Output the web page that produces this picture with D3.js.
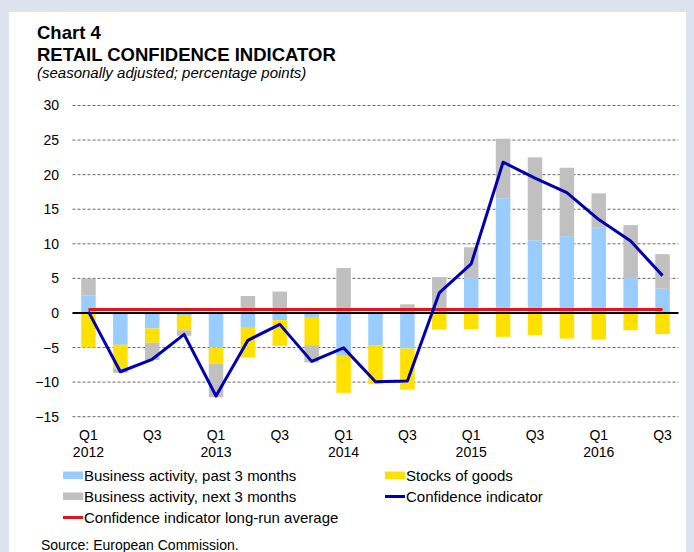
<!DOCTYPE html>
<html>
<head>
<meta charset="utf-8">
<script src="https://cdn.jsdelivr.net/npm/d3@7"></script>
<style>
  body { margin: 0; background: #dce3ef; }
  text { font-family: Arial, "Liberation Sans", sans-serif; fill: #000; }
</style>
</head>
<body>
<div id="chart"></div>
<script>

// quarters Q1 2012 .. Q3 2016
const quarters = ["Q1 2012","Q2 2012","Q3 2012","Q4 2012",
                  "Q1 2013","Q2 2013","Q3 2013","Q4 2013",
                  "Q1 2014","Q2 2014","Q3 2014","Q4 2014",
                  "Q1 2015","Q2 2015","Q3 2015","Q4 2015",
                  "Q1 2016","Q2 2016","Q3 2016"];

const pastActivity = [2.55, -4.6, -2.25, -0.4, -5.0, -2.15, -1.05, -0.7, -6.2, -4.65, -5.15, 0, 5.2, 16.6, 10.5, 11.1, 12.4, 5.05, 3.5];
const stocks = [-5.0, -3.4, -2.05, -2.1, -2.3, -4.3, -3.7, -3.95, -5.35, -5.65, -5.95, -2.4, -2.35, -3.45, -3.2, -3.7, -3.85, -2.5, -3.05];
const nextActivity = [2.4, -0.65, -2.5, -0.8, -4.9, 2.45, 3.1, -2.5, 6.5, 0, 1.25, 5.2, 4.3, 8.6, 12.0, 9.9, 4.9, 7.65, 5.0];
const confidence = [0.2, -8.5, -6.7, -3.1, -12.0, -3.95, -1.65, -7.0, -5.05, -9.95, -9.85, 2.9, 7.1, 21.8, 19.5, 17.4, 13.5, 10.4, 5.4];
const longRunAvg = 0.5;

const yTicks = [-15, -10, -5, 0, 5, 10, 15, 20, 25, 30];

const width = 694, height = 552;

const svg = d3.select("#chart")
  .append("svg")
  .attr("width", width)
  .attr("height", height);

// white panel
svg.append("rect")
  .attr("x", 9).attr("y", 12)
  .attr("width", 677).attr("height", height - 12)
  .attr("fill", "#fff");

// titles
svg.append("text").attr("x", 37).attr("y", 39)
  .attr("font-size", "18.5px").attr("font-weight", "bold").text("Chart 4");
svg.append("text").attr("x", 37).attr("y", 61)
  .attr("font-size", "18.5px").attr("font-weight", "bold").text("RETAIL CONFIDENCE INDICATOR");
svg.append("text").attr("x", 37).attr("y", 78)
  .attr("font-size", "15px").attr("font-style", "italic")
  .text("(seasonally adjusted; percentage points)");

// scales
const x = d3.scaleBand()
  .domain(d3.range(quarters.length))
  .range([72.5, 678.5])
  .paddingInner(0.545)
  .paddingOuter(0.2725);

const y = d3.scaleLinear()
  .domain([-15, 30])
  .range([416.7, 105.5]);

const cx = i => x(i) + x.bandwidth() / 2;

// gridlines
svg.append("g")
  .selectAll("line")
  .data(yTicks.filter(t => t !== 0))
  .join("line")
    .attr("x1", 72.5).attr("x2", 678.5)
    .attr("y1", d => y(d)).attr("y2", d => y(d))
    .attr("stroke", "#666")
    .attr("stroke-width", 1)
    .attr("stroke-dasharray", "3,2");

// y axis labels
const yAxis = svg.append("g")
  .attr("transform", "translate(72,0)")
  .call(d3.axisLeft(y).tickValues(yTicks).tickSize(0).tickPadding(13));
yAxis.select(".domain").remove();
yAxis.selectAll("text")
  .attr("font-size", "14px")
  .attr("font-family", "Arial, 'Liberation Sans', sans-serif")
  .attr("fill", "#000");

// stacked bars
const keys = ["past", "stocks", "next"];
const colors = { past: "#99ccff", stocks: "#ffe100", next: "#c0c0c0" };
const table = quarters.map((q, i) => ({
  i: i, past: pastActivity[i], stocks: stocks[i], next: nextActivity[i]
}));

const series = d3.stack()
  .keys(keys)
  .offset(d3.stackOffsetDiverging)(table);

svg.append("g")
  .selectAll("g")
  .data(series)
  .join("g")
    .attr("fill", d => colors[d.key])
  .selectAll("rect")
  .data(d => d)
  .join("rect")
    .attr("x", d => x(d.data.i))
    .attr("y", d => y(Math.max(d[0], d[1])))
    .attr("height", d => Math.abs(y(d[0]) - y(d[1])))
    .attr("width", x.bandwidth());

// zero line
svg.append("line")
  .attr("x1", 72.5).attr("x2", 678.5)
  .attr("y1", y(0)).attr("y2", y(0))
  .attr("stroke", "#000").attr("stroke-width", 2);

// long-run average
svg.append("line")
  .attr("x1", cx(0)).attr("x2", cx(quarters.length - 1))
  .attr("y1", y(longRunAvg)).attr("y2", y(longRunAvg))
  .attr("stroke", "#e3141b").attr("stroke-width", 3);

// confidence indicator
svg.append("path")
  .datum(confidence)
  .attr("fill", "none")
  .attr("stroke", "#0000b0")
  .attr("stroke-width", 3)
  .attr("stroke-linejoin", "round")
  .attr("d", d3.line().x((d, i) => cx(i)).y(d => y(d)));

// x labels
const xl = svg.append("g");
quarters.forEach((q, i) => {
  const [qq, yr] = q.split(" ");
  if (qq === "Q1" || qq === "Q3") {
    xl.append("text").attr("x", cx(i)).attr("y", 440)
      .attr("text-anchor", "middle").attr("font-size", "14px").text(qq);
  }
  if (qq === "Q1") {
    xl.append("text").attr("x", cx(i)).attr("y", 457)
      .attr("text-anchor", "middle").attr("font-size", "14px").text(yr);
  }
});

// legend
const legend = [
  { label: "Business activity, past 3 months", type: "rect", color: colors.past, x: 63, y: 481 },
  { label: "Stocks of goods", type: "rect", color: colors.stocks, x: 385, y: 481 },
  { label: "Business activity, next 3 months", type: "rect", color: colors.next, x: 63, y: 502 },
  { label: "Confidence indicator", type: "line", color: "#0000b0", x: 385, y: 502 },
  { label: "Confidence indicator long-run average", type: "line", color: "#e3141b", x: 63, y: 523 }
];

const lg = svg.append("g").selectAll("g").data(legend).join("g");
lg.filter(d => d.type === "rect").append("rect")
  .attr("x", d => d.x).attr("y", d => d.y - 9.5)
  .attr("width", 20).attr("height", 7.5)
  .attr("fill", d => d.color);
lg.filter(d => d.type === "line").append("line")
  .attr("x1", d => d.x).attr("x2", d => d.x + 20)
  .attr("y1", d => d.y - 5.5).attr("y2", d => d.y - 5.5)
  .attr("stroke", d => d.color).attr("stroke-width", 3);
lg.append("text")
  .attr("x", d => d.x + 21).attr("y", d => d.y)
  .attr("font-size", "15px")
  .text(d => d.label);

// source
svg.append("text").attr("x", 41).attr("y", 550)
  .attr("font-size", "14px").text("Source: European Commission.");

</script>
</body>
</html>
